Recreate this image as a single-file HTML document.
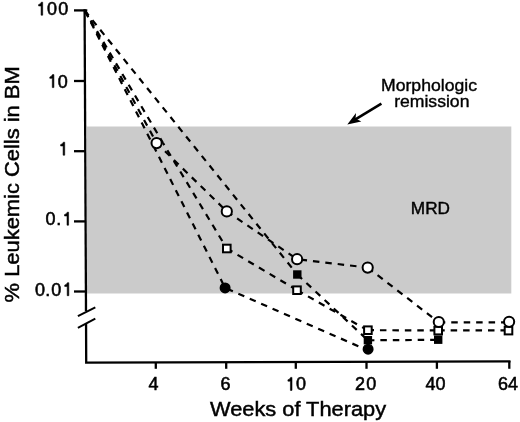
<!DOCTYPE html>
<html><head><meta charset="utf-8">
<style>
html,body{margin:0;padding:0;background:#fff;}
body{width:520px;height:422px;overflow:hidden;}
svg{display:block;will-change:transform;}
text{font-family:"Liberation Sans", sans-serif;fill:#000;}
</style></head>
<body>
<svg width="520" height="422" viewBox="0 0 520 422">
<rect x="87" y="126.5" width="424.3" height="167" fill="#cbcbcb"/>
<g stroke="#000" stroke-width="2.3" fill="none">
  <path d="M84.6 9.3 L86.0 311"/>
  <path d="M86.06 324 L86.2 362.6 L510.5 361.3"/>
  <path d="M74 10.4 H87.3"/>
  <path d="M74 81 H86"/>
  <path d="M74 151.2 H86"/>
  <path d="M74 221.4 H86"/>
  <path d="M74 291.5 H86"/>
  <path d="M155.8 362 V368.8"/>
  <path d="M226.2 362 V368.8"/>
  <path d="M295.8 362 V368.8"/>
  <path d="M366.5 362 V368.8"/>
  <path d="M436.9 362 V368.8"/>
  <path d="M509.3 361 V368.8"/>
</g>
<g stroke="#000" stroke-width="2" fill="none">
  <path d="M77.9 316.2 L95.3 307.3"/>
  <path d="M77.9 327.8 L95.3 318.6"/>
</g>
<g fill="#000" stroke="#000"><g transform="translate(0 15.20) scale(1 1.05)"><path d="M515 0 L515 1000 L230 1000 L230 1150 Q430 1180 540 1409 L696 1409 L696 0 Z" transform="translate(36.57 0) scale(0.008789 -0.008789)" stroke-width="62.6"/><text x="46.98" y="0" font-size="18.0" stroke-width="0.55">0</text><text x="58.29" y="0" font-size="18.0" stroke-width="0.55">0</text></g><g transform="translate(0 87.60) scale(1 1.05)"><path d="M515 0 L515 1000 L230 1000 L230 1150 Q430 1180 540 1409 L696 1409 L696 0 Z" transform="translate(47.78 0) scale(0.008789 -0.008789)" stroke-width="62.6"/><text x="57.79" y="0" font-size="18.0" stroke-width="0.55">0</text></g><g transform="translate(0 155.20) scale(1 1.05)"><path d="M515 0 L515 1000 L230 1000 L230 1150 Q430 1180 540 1409 L696 1409 L696 0 Z" transform="translate(58.59 0) scale(0.008789 -0.008789)" stroke-width="62.6"/></g><g transform="translate(0 225.20) scale(1 1.05)"><text x="45.48" y="0" font-size="18.0" stroke-width="0.55">0</text><text x="56.29" y="0" font-size="18.0" stroke-width="0.55">.</text><path d="M515 0 L515 1000 L230 1000 L230 1150 Q430 1180 540 1409 L696 1409 L696 0 Z" transform="translate(62.49 0) scale(0.008789 -0.008789)" stroke-width="62.6"/></g><g transform="translate(0 295.70) scale(1 1.05)"><text x="34.97" y="0" font-size="18.0" stroke-width="0.55">0</text><text x="45.28" y="0" font-size="18.0" stroke-width="0.55">.</text><text x="51.28" y="0" font-size="18.0" stroke-width="0.55">0</text><path d="M515 0 L515 1000 L230 1000 L230 1150 Q430 1180 540 1409 L696 1409 L696 0 Z" transform="translate(62.69 0) scale(0.008789 -0.008789)" stroke-width="62.6"/></g><g transform="translate(0 390.40) scale(1 1.05)"><text x="148.39" y="0" font-size="18.0" stroke-width="0.55">4</text></g><g transform="translate(0 390.40) scale(1 1.05)"><text x="220.39" y="0" font-size="18.0" stroke-width="0.55">6</text></g><g transform="translate(0 390.40) scale(1 1.05)"><path d="M515 0 L515 1000 L230 1000 L230 1150 Q430 1180 540 1409 L696 1409 L696 0 Z" transform="translate(285.89 0) scale(0.008789 -0.008789)" stroke-width="62.6"/><text x="295.90" y="0" font-size="18.0" stroke-width="0.55">0</text></g><g transform="translate(0 390.40) scale(1 1.05)"><text x="355.09" y="0" font-size="18.0" stroke-width="0.55">2</text><text x="366.20" y="0" font-size="18.0" stroke-width="0.55">0</text></g><g transform="translate(0 390.40) scale(1 1.05)"><text x="425.39" y="0" font-size="18.0" stroke-width="0.55">4</text><text x="435.40" y="0" font-size="18.0" stroke-width="0.55">0</text></g><g transform="translate(0 390.40) scale(1 1.05)"><text x="497.99" y="0" font-size="18.0" stroke-width="0.55">6</text><text x="508.00" y="0" font-size="18.0" stroke-width="0.55">4</text></g></g>
<text transform="translate(210 415.5) scale(1 0.96)" font-size="21.8" stroke="#000" stroke-width="0.5">Weeks of Therapy</text>
<text transform="translate(19.1 302.4) rotate(-90) scale(1 0.94)" font-size="21.9" stroke="#000" stroke-width="0.5">% Leukemic Cells in BM</text>
<text transform="translate(429 90.5) scale(1 0.96)" font-size="17.6" text-anchor="middle" stroke="#000" stroke-width="0.4">Morphologic</text>
<text transform="translate(431.8 107.4) scale(1 0.96)" font-size="17.6" text-anchor="middle" stroke="#000" stroke-width="0.4">remission</text>
<text transform="translate(430.4 214.4) scale(1 0.96)" font-size="17.2" text-anchor="middle" stroke="#000" stroke-width="0.45">MRD</text>
<path d="M381.4 103.7 L355 119.6" stroke="#000" stroke-width="2.6" fill="none"/>
<path d="M347.3 124.4 L356 113.1 L355.6 118.6 L361.3 121.6 Z" fill="#000"/>
<g stroke="#000" stroke-width="2.2" fill="none" stroke-dasharray="6.5 5.95"><path d="M84.6 10.4 L297.3 274.5"/><path d="M297.3 274.5 L367.9 340.3"/><path d="M367.9 340.3 L438.2 339.8"/><path d="M84.8 10.4 L156.6 143.1"/><path d="M156.6 143.1 L226.8 211.4" stroke-dashoffset="0.7"/><path d="M226.8 211.4 L297.1 259.2"/><path d="M297.1 259.2 L367.7 267.6" stroke-dashoffset="-3.5"/><path d="M367.7 267.6 L438.8 322.3"/><path d="M438.8 322.3 L509.1 322.3"/><path d="M84.8 10.4 L163 143" stroke-dashoffset="0.8"/><path d="M163 143 L226.8 248.5" stroke-dashoffset="4.0"/><path d="M226.8 248.5 L297.2 290.2"/><path d="M297.2 290.2 L367.5 330.2"/><path d="M367.5 330.2 L438.2 330.4"/><path d="M438.2 330.4 L508.5 330.4"/><path d="M84.8 10.4 L152 143" stroke-dashoffset="-1.2"/><path d="M152 143 L225.1 287.9" stroke-dashoffset="9.4"/><path d="M225.1 287.9 L368.1 350.5" stroke-dashoffset="-2.0"/></g>
<g stroke="#000" stroke-width="2"><circle cx="225.1" cy="287.9" r="4.7" stroke-width="1.6" fill="#000"/><circle cx="368.1" cy="349.2" r="4.7" stroke-width="1.6" fill="#000"/><rect x="294.10" y="271.30" width="6.40" height="6.40" fill="#000"/><rect x="364.70" y="337.00" width="6.40" height="6.40" fill="#000"/><rect x="435.00" y="336.50" width="6.40" height="6.40" fill="#000"/><rect x="223.00" y="244.70" width="7.60" height="7.60" fill="#fff"/><rect x="293.20" y="286.40" width="7.60" height="7.60" fill="#fff"/><rect x="364.10" y="326.40" width="7.60" height="7.60" fill="#fff"/><rect x="434.40" y="326.80" width="7.60" height="7.60" fill="#fff"/><rect x="504.70" y="326.80" width="7.60" height="7.60" fill="#fff"/><circle cx="156.6" cy="143.1" r="5.1" fill="#fff"/><circle cx="226.8" cy="211.4" r="5.1" fill="#fff"/><circle cx="297.1" cy="259.2" r="5.1" fill="#fff"/><circle cx="367.7" cy="267.6" r="5.1" fill="#fff"/><circle cx="438.8" cy="322.0" r="5.1" fill="#fff"/><circle cx="509.1" cy="321.8" r="5.1" fill="#fff"/></g>
</svg>
</body></html>
